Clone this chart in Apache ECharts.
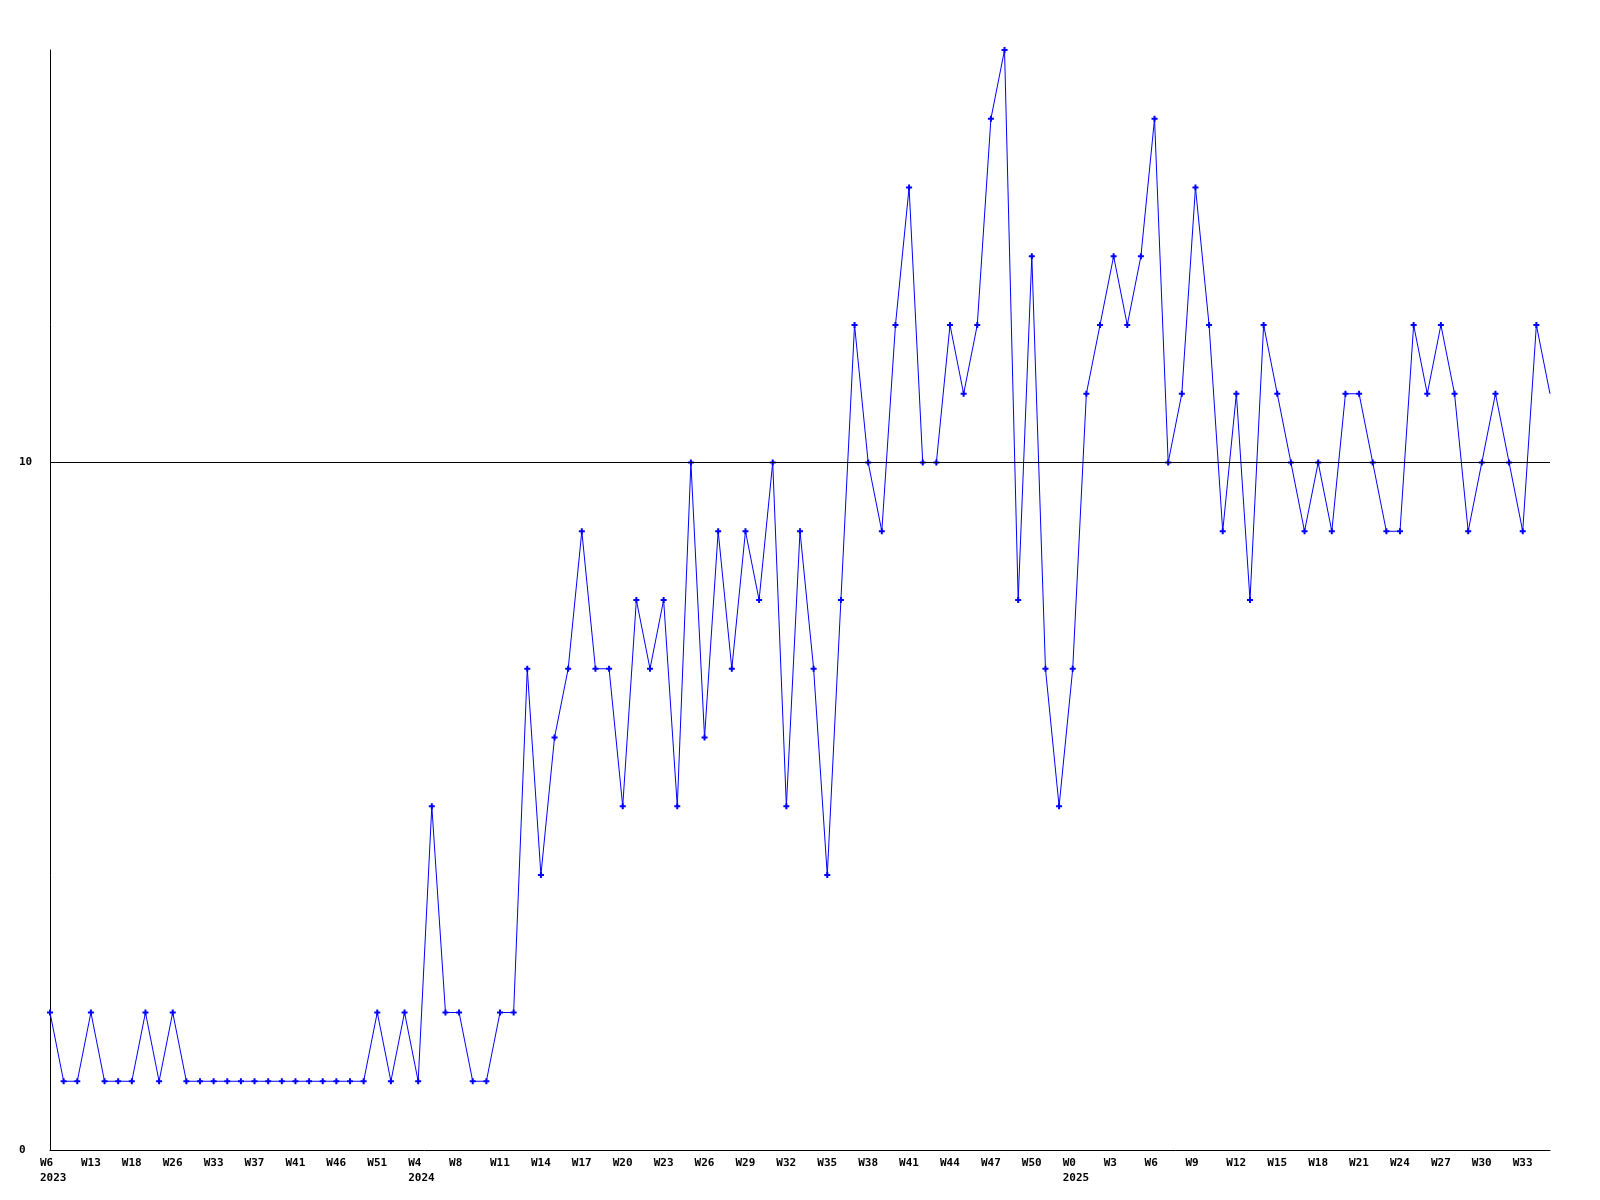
<!DOCTYPE html>
<html>
<head>
<meta charset="utf-8">
<script src="https://cdn.jsdelivr.net/npm/echarts@6/dist/echarts.min.js"></script>
<style>
html,body{margin:0;padding:0;background:#fff;}
#chart{width:1600px;height:1200px;}
</style>
</head>
<body>
<div id="chart"></div>
<script>
// One value per sample; tick labels appear on every third sample.
const values = [
  2,1,1,2,1,1,1,2,1,2,
  1,1,1,1,1,1,1,1,1,1,
  1,1,1,1,2,1,2,1,5,2,
  2,1,1,2,2,7,4,6,7,9,
  7,7,5,8,7,8,5,10,6,9,
  7,9,8,10,5,9,7,4,8,12,
  10,9,12,14,10,10,12,11,12,15,
  16,8,13,7,5,7,11,12,13,12,
  13,15,10,11,14,12,9,11,8,12,
  11,10,9,10,9,11,11,10,9,9,
  12,11,12,11,9,10,11,10,9,12,
  11
];
const weekLabels = [
  'W6','W13','W18','W26','W33','W37','W41','W46','W51',
  'W4','W8','W11','W14','W17','W20','W23','W26','W29','W32','W35','W38','W41','W44','W47','W50',
  'W0','W3','W6','W9','W12','W15','W18','W21','W24','W27','W30','W33'
];
const yearStarts = [0, 9, 25];
const years = ['2023', '2024', '2025'];
const yTicks = [0, 10];

const categories = values.map((_, i) => String(i));
// last sample sits on the right border; its marker is not drawn there
const seriesData = values.map((v, i) => i === values.length - 1 ? {value: v, symbol: 'none'} : v);

const chart = echarts.init(document.getElementById('chart'), null, {renderer: 'canvas'});
const font = {fontFamily: 'DejaVu Sans Mono', fontWeight: 'bold', fontSize: 11, color: '#000'};

chart.setOption({
  animation: false,
  backgroundColor: '#fff',
  grid: {left: 50, right: 50, top: 50, bottom: 50, containLabel: false},
  xAxis: {
    type: 'category',
    data: categories,
    boundaryGap: false,
    axisLine: {show: true, lineStyle: {color: '#000', width: 1}},
    axisTick: {show: false},
    splitLine: {show: false},
    axisLabel: Object.assign({}, font, {
      interval: 2,
      margin: 6,
      lineHeight: 15,
      align: 'left',
      verticalAlign: 'top',
      padding: [0, 0, 0, -10],
      formatter: function (v, idx) {
        if (idx % 3 !== 0) return '';
        const k = idx / 3;
        const w = weekLabels[k] || '';
        const yi = yearStarts.indexOf(k);
        return yi >= 0 ? w + '\n' + years[yi] : w;
      }
    })
  },
  yAxis: {
    type: 'value',
    min: 0,
    max: 16,
    interval: 10,
    axisLine: {show: true, lineStyle: {color: '#000', width: 1}},
    axisTick: {show: false},
    splitLine: {show: false},
    axisLabel: Object.assign({}, font, {
      align: 'left',
      margin: 31,
      formatter: function (v) { return yTicks.indexOf(v) >= 0 ? String(v) : ''; }
    })
  },
  series: [{
    type: 'line',
    data: seriesData,
    symbol: 'path://M2,0L4,0L4,2L6,2L6,4L4,4L4,6L2,6L2,4L0,4L0,2L2,2Z',
    symbolSize: 6,
    showAllSymbol: true,
    lineStyle: {color: '#0000ff', width: 1},
    itemStyle: {color: '#0000ff'},
    markLine: {
      silent: true,
      symbol: 'none',
      label: {show: false},
      lineStyle: {color: '#000', width: 1, type: 'solid'},
      data: [{yAxis: 10}]
    }
  }]
});
</script>
</body>
</html>
